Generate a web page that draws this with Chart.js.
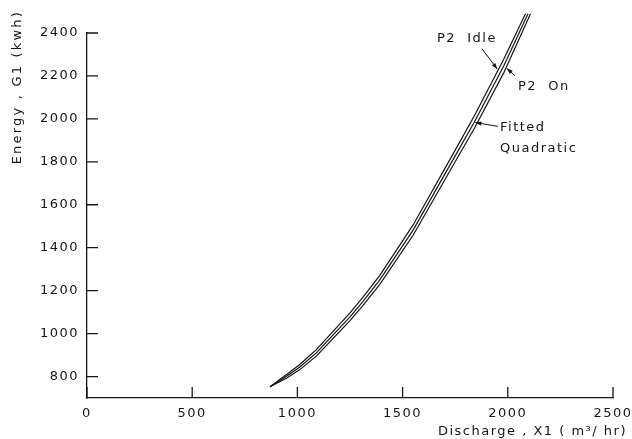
<!DOCTYPE html>
<html>
<head>
<meta charset="utf-8">
<script src="https://cdn.jsdelivr.net/npm/chart.js@4"></script>
<style>
  html, body { margin: 0; padding: 0; background: #fff; }
  canvas { display: block; }
</style>
</head>
<body>
<canvas id="energyChart" width="632" height="439"></canvas>
<script>
// values
const xTicks = [0, 500, 1000, 1500, 2000, 2500];
const yTicks = [800, 1000, 1200, 1400, 1600, 1800, 2000, 2200, 2400];

const xIdle = [870, 950, 1010, 1090, 1250, 1310, 1390, 1550, 1760, 1840, 1980, 2084];
const yIdle = [752, 811, 855, 925, 1096, 1167, 1269, 1506, 1872, 2012, 2277, 2490];

const xFitted = [870, 950, 1010, 1090, 1250, 1310, 1390, 1550, 1760, 1840, 1980, 2096];
const yFitted = [752, 802, 843, 910, 1078, 1148, 1248, 1482, 1845, 1983, 2245, 2490];

const xOn = [870, 950, 1010, 1090, 1250, 1310, 1390, 1550, 1760, 1840, 1980, 2108];
const yOn = [752, 793, 831, 895, 1060, 1129, 1227, 1458, 1818, 1954, 2213, 2490];

// labels on the plot, in data units
const notes = [
  { text: "P2  Idle", x: 1663, y: 2373 },
  { text: "P2  On", x: 2048, y: 2150 },
  { text: "Fitted", x: 1963, y: 1960 },
  { text: "Quadratic", x: 1963, y: 1863 }
];
const arrows = [
  { from: [1877, 2327], to: [1950, 2232] },
  { from: [2034, 2201], to: [1995, 2236] },
  { from: [1953, 1965], to: [1846, 1983] }
];

const ink = "#161616";
const font = '13px "DejaVu Sans"';

const toPts = (xs, ys) => xs.map((x, i) => ({ x: x, y: ys[i] }));

function lineSet(label, xs, ys) {
  return {
    label: label,
    data: toPts(xs, ys),
    borderColor: ink,
    borderWidth: 1.2,
    pointRadius: 0,
    tension: 0,
    fill: false,
    clip: false
  };
}

const decor = {
  id: "decor",
  beforeDraw(chart) {
    chart.ctx.letterSpacing = "1.5px";
  },
  afterDraw(chart) {
    const { ctx, chartArea: a, scales: { x, y } } = chart;
    ctx.save();
    ctx.letterSpacing = "1.5px";
    ctx.strokeStyle = ink;
    ctx.fillStyle = ink;
    ctx.lineWidth = 1.3;

    // inward tick marks
    ctx.beginPath();
    yTicks.forEach(v => {
      const py = y.getPixelForValue(v);
      ctx.moveTo(a.left, py);
      ctx.lineTo(a.left + 11, py);
    });
    xTicks.forEach(v => {
      const px = x.getPixelForValue(v);
      ctx.moveTo(px, a.bottom);
      ctx.lineTo(px, a.bottom - 11);
    });
    ctx.stroke();

    // curve labels
    ctx.font = font;
    ctx.textAlign = "left";
    ctx.textBaseline = "middle";
    notes.forEach(n => ctx.fillText(n.text, x.getPixelForValue(n.x), y.getPixelForValue(n.y)));

    // leader arrows
    ctx.lineWidth = 1;
    arrows.forEach(ar => {
      const x0 = x.getPixelForValue(ar.from[0]), y0 = y.getPixelForValue(ar.from[1]);
      const x1 = x.getPixelForValue(ar.to[0]), y1 = y.getPixelForValue(ar.to[1]);
      const ang = Math.atan2(y1 - y0, x1 - x0);
      ctx.beginPath();
      ctx.moveTo(x0, y0);
      ctx.lineTo(x1, y1);
      ctx.stroke();
      ctx.beginPath();
      ctx.moveTo(x1, y1);
      ctx.lineTo(x1 - 6 * Math.cos(ang) + 2.2 * Math.sin(ang), y1 - 6 * Math.sin(ang) - 2.2 * Math.cos(ang));
      ctx.lineTo(x1 - 6 * Math.cos(ang) - 2.2 * Math.sin(ang), y1 - 6 * Math.sin(ang) + 2.2 * Math.cos(ang));
      ctx.closePath();
      ctx.fill();
    });

    // axis titles
    ctx.textBaseline = "middle";
    ctx.textAlign = "right";
    ctx.fillText("Discharge , X1 ( m³/ hr)", 627, 432);
    ctx.letterSpacing = "2.2px";
    ctx.translate(18, 10);
    ctx.rotate(-Math.PI / 2);
    ctx.fillText("Energy , G1 (kwh)", 0, 0);
    ctx.restore();
  }
};

new Chart(document.getElementById("energyChart"), {
  type: "line",
  data: {
    datasets: [
      lineSet("P2 Idle", xIdle, yIdle),
      lineSet("Fitted Quadratic", xFitted, yFitted),
      lineSet("P2 On", xOn, yOn)
    ]
  },
  options: {
    responsive: false,
    animation: false,
    layout: { padding: { top: 33, right: 19, left: 0, bottom: 0 } },
    plugins: {
      legend: { display: false },
      tooltip: { enabled: false }
    },
    scales: {
      x: {
        type: "linear",
        min: 0,
        max: 2500,
        afterBuildTicks: s => { s.ticks = xTicks.map(v => ({ value: v })); },
        afterFit: s => { s.height = 41; s.paddingRight = 0; s.paddingLeft = 0; },
        grid: { drawOnChartArea: false, drawTicks: false },
        border: { display: true, color: ink, width: 1.3 },
        ticks: {
          color: ink,
          font: { family: "DejaVu Sans", size: 13 },
          padding: 8,
          maxRotation: 0,
          callback: v => String(v)
        }
      },
      y: {
        type: "linear",
        min: 700,
        max: 2400,
        afterBuildTicks: s => { s.ticks = yTicks.map(v => ({ value: v })); },
        afterFit: s => { s.width = 87; },
        grid: { drawOnChartArea: false, drawTicks: false },
        border: { display: true, color: ink, width: 1.3 },
        ticks: {
          color: ink,
          font: { family: "DejaVu Sans", size: 13 },
          padding: 8,
          callback: v => String(v)
        }
      }
    }
  },
  plugins: [decor]
});
</script>
</body>
</html>
